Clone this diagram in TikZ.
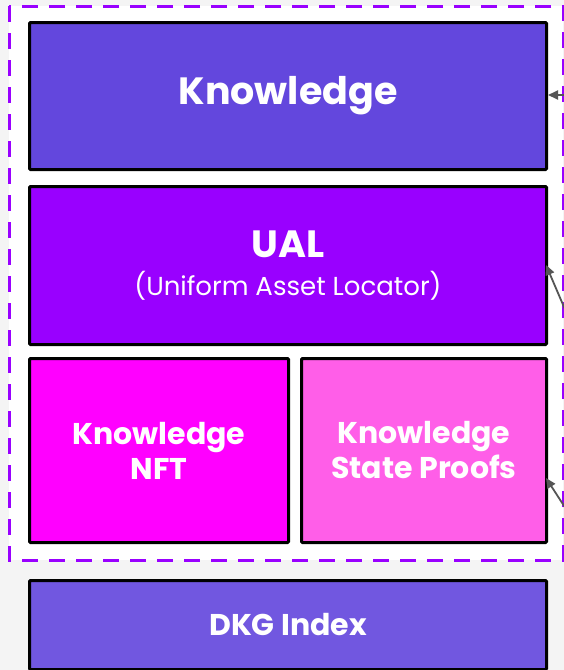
\documentclass[tikz,border=0pt]{standalone}
\usepackage{fontspec}
\setmainfont{Poppins}
\usetikzlibrary{arrows.meta}
\definecolor{bg}{HTML}{F4F4F4}
\definecolor{knowc}{HTML}{6347DD}
\definecolor{ualc}{HTML}{9900FF}
\definecolor{nftc}{HTML}{FF00FF}
\definecolor{proofc}{HTML}{FF5EE8}
\definecolor{dkgc}{HTML}{7157E0}
\definecolor{arrowc}{HTML}{555555}
\tikzset{
  blockbox/.style={draw=black, line width=3pt, rounded corners=1pt, text=white, align=center, inner sep=0pt},
  container/.style={draw=ualc, line width=3pt, dash pattern=on 16pt off 11pt, fill=white},
  pointer/.style={draw=arrowc, line width=1.8pt, -{Triangle[length=10pt,width=9pt]}},
}
\begin{document}
\begin{tikzpicture}[x=1pt,y=-1pt]
\useasboundingbox (0,0) rectangle (564,670);
\fill[bg] (0,0) rectangle (564,670);
\draw[container] (9,6) rectangle (563,560);
\node[blockbox, fill=knowc, minimum width=517pt, minimum height=147pt, anchor=north west,
  font={\fontsize{38}{40}\selectfont\bfseries}] (know) at (28,21) {\raisebox{-4pt}{Knowledge}};
\node[blockbox, fill=ualc, minimum width=517pt, minimum height=158pt, anchor=north west,
  font={\fontsize{26}{38}\selectfont}] (ual) at (28,185)
  {{\fontsize{38}{40}\selectfont\bfseries UAL}\\(Uniform Asset Locator)};
\node[blockbox, fill=nftc, minimum width=259pt, minimum height=184pt, anchor=north west,
  font={\fontsize{30}{35}\selectfont\bfseries}] (nft) at (28,357) {Knowledge\\NFT};
\node[blockbox, fill=proofc, minimum width=245pt, minimum height=184pt, anchor=north west,
  font={\fontsize{30}{35}\selectfont\bfseries}] (proof) at (300,357) {Knowledge\\State Proofs};
\node[blockbox, fill=dkgc, minimum width=517pt, minimum height=89pt, anchor=north west,
  font={\fontsize{30}{35}\selectfont\bfseries}] (dkg) at (28,579) {DKG Index};
\coordinate (s1) at (570,95);
\coordinate (s2) at (567,314);
\coordinate (s3) at (568,512);
\draw[pointer] (s1) -- (know.east |- s1);
\draw[pointer] (s2) -- (546,265);
\draw[pointer] (s3) -- (546,478);
\end{tikzpicture}
\end{document}
